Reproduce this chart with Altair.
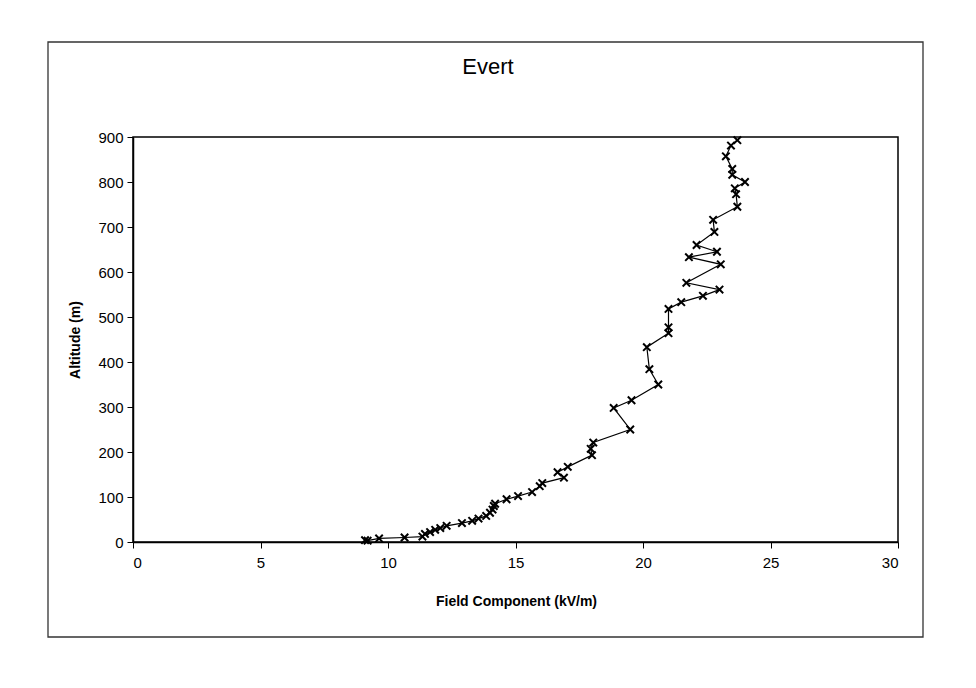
import altair as alt
import pandas as pd

field = [9.1, 9.2, 9.65, 10.65, 11.35, 11.45, 11.65, 11.85, 12.05, 12.3, 12.9, 13.3,
         13.55, 13.85, 14.0, 14.1, 14.15, 14.2, 14.65, 15.1, 15.65, 15.95, 16.05, 16.9,
         16.65, 17.05, 18.0, 17.95, 18.05, 19.5, 18.85, 19.55, 20.6, 20.25, 20.15, 21.0,
         21.0, 21.0, 21.5, 22.35, 23.0, 21.7, 23.05, 21.8, 22.9, 22.1, 22.8, 22.75,
         23.7, 23.65, 23.6, 24.0, 23.5, 23.5, 23.25, 23.45, 23.7]
altitude = [4, 3, 8, 10, 12, 18, 22, 27, 31, 36, 42, 47,
            52, 58, 65, 72, 80, 85, 95, 102, 111, 124, 131, 143,
            155, 167, 193, 207, 221, 250, 298, 315, 350, 384, 433, 464,
            477, 518, 533, 547, 561, 576, 617, 633, 645, 660, 689, 716,
            745, 773, 786, 800, 816, 829, 857, 881, 893]

x_ticks = [0, 5, 10, 15, 20, 25, 30]
y_ticks = [0, 100, 200, 300, 400, 500, 600, 700, 800, 900]

df = pd.DataFrame({"field": field, "altitude": altitude, "idx": list(range(len(field)))})

W, H = 765, 405
FONT = "Liberation Sans"

xenc = alt.X("field:Q", scale=alt.Scale(domain=[0, 30], nice=False),
             axis=alt.Axis(values=x_ticks, title="Field Component (kV/m)", grid=False,
                           tickSize=6, labelPadding=7, titleX=383, titleY=59,
                           titleBaseline="middle", titleAlign="center"))
yenc = alt.Y("altitude:Q", scale=alt.Scale(domain=[0, 900], nice=False),
             axis=alt.Axis(values=y_ticks, title="Altitude (m)", grid=False,
                           tickSize=6, labelPadding=4, titleX=-58, titleY=202.5,
                           titleAngle=-90, titleBaseline="middle", titleAlign="center"))

border = alt.Chart(pd.DataFrame({"a": [0]})).mark_rect(
    fill=None, stroke="#333333", strokeWidth=1.3, clip=False
).encode(x=alt.value(-85), x2=alt.value(790), y=alt.value(-95), y2=alt.value(500))

title = alt.Chart(pd.DataFrame({"t": ["Evert"]})).mark_text(
    font=FONT, fontSize=22, color="black", align="center", baseline="middle"
).encode(text="t:N", x=alt.value(355), y=alt.value(-70))

line = alt.Chart(df).mark_line(color="black", strokeWidth=1.2).encode(
    x=xenc, y=yenc, order="idx:Q")

pts = alt.Chart(df).mark_point(
    shape="M-1,-1L1,1M-1,1L1,-1", filled=False, color="black", strokeWidth=2, size=55,
    opacity=1
).encode(x="field:Q", y="altitude:Q")

chart = alt.layer(border, line, pts, title).properties(
    width=W, height=H,
    background="white",
    autosize=alt.AutoSizeParams(type="none"),
    padding={"left": 125, "top": 129, "right": 60, "bottom": 110},
).configure_view(stroke="black", strokeWidth=1.5).configure_axis(
    domainColor="black", tickColor="black", labelColor="black", titleColor="black",
    labelFont=FONT, titleFont=FONT, labelFontSize=15, titleFontSize=14,
    titleFontWeight="bold", domainWidth=1.5, labelFontWeight="normal"
)

chart.save("out.html", embed_options={"renderer": "svg", "actions": False})
